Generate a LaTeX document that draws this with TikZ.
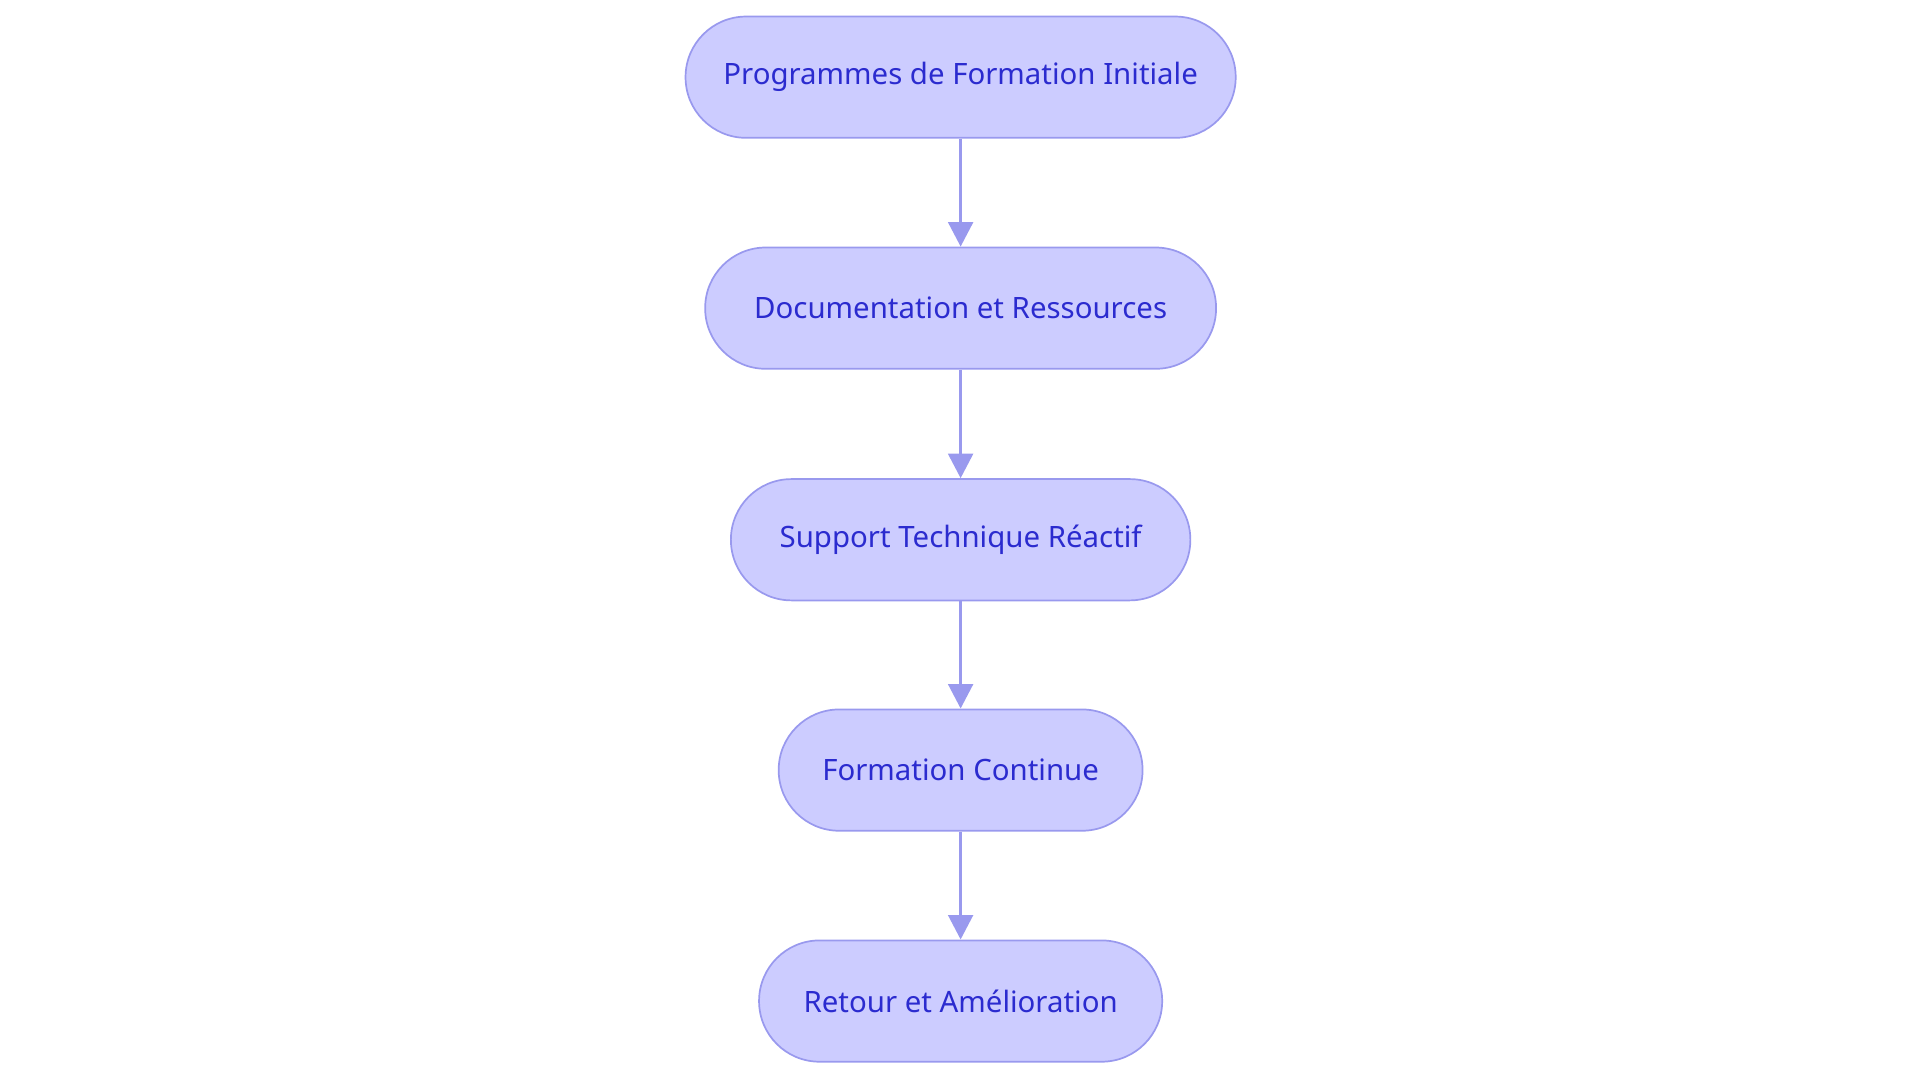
\documentclass[tikz,border=0pt]{standalone}
\usepackage{fontspec}
\setmainfont{Noto Sans}
\usetikzlibrary{arrows.meta}
\definecolor{nfill}{HTML}{CCCCFF}
\definecolor{nline}{HTML}{9999EE}
\definecolor{ntext}{HTML}{2B2BCF}
\begin{document}
\begin{tikzpicture}[x=0.5pt,y=-0.5pt,
  box/.style={draw=nline,fill=nfill,line width=0.7pt,rounded corners=24.7pt,minimum height=49.5pt,text=ntext,font=\fontsize{12}{14}\selectfont,inner sep=0pt},
  arr/.style={draw=nline,line width=1.5pt,-{Triangle[length=10pt,width=10pt]}}]
\useasboundingbox (0,0) rectangle (1567,884);
\node[box,minimum width=224.5pt] (a) at (784,63) {Programmes de Formation Initiale};
\node[box,minimum width=208.5pt] (b) at (784,251.5) {Documentation et Ressources};
\node[box,minimum width=187.5pt] (c) at (784,440.5) {Support Technique Réactif};
\node[box,minimum width=148.5pt] (d) at (784,628.5) {Formation Continue};
\node[box,minimum width=164.5pt] (e) at (784,817) {Retour et Amélioration};
\draw[arr] (a) -- (b);
\draw[arr] (b) -- (c);
\draw[arr] (c) -- (d);
\draw[arr] (d) -- (e);
\end{tikzpicture}
\end{document}
